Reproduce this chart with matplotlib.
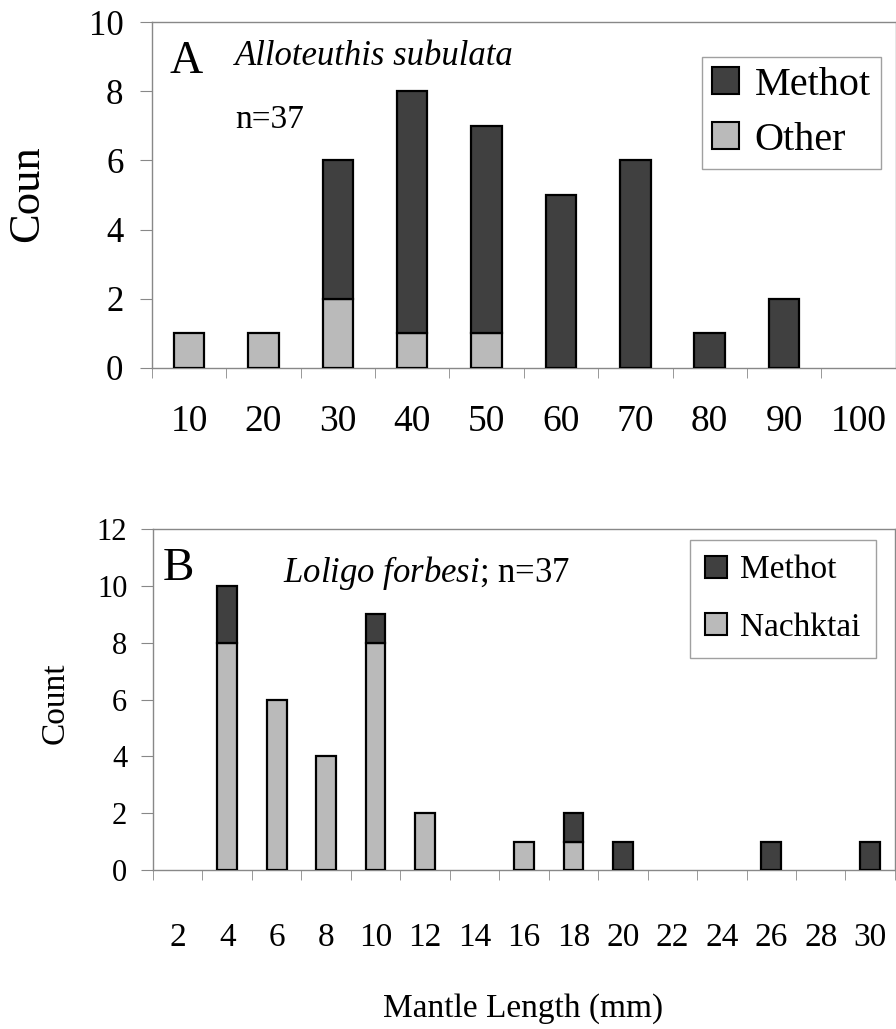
import matplotlib.pyplot as plt
import numpy as np
from matplotlib.patches import Patch

plt.rcParams['font.family'] = ['Liberation Serif', 'DejaVu Serif']
plt.rcParams['mathtext.fontset'] = 'custom'
plt.rcParams['mathtext.rm'] = 'Liberation Serif'
plt.rcParams['mathtext.it'] = 'Liberation Serif:italic'

# Panel A: Alloteuthis subulata
sizes_a = ['10', '20', '30', '40', '50', '60', '70', '80', '90', '100']
other_a = [1, 1, 2, 1, 1, 0, 0, 0, 0, 0]
methot_a = [0, 0, 4, 7, 6, 5, 6, 1, 2, 0]

# Panel B: Loligo forbesi
sizes_b = ['2', '4', '6', '8', '10', '12', '14', '16', '18', '20', '22', '24', '26', '28', '30']
nacht_b = [0, 8, 6, 4, 8, 2, 0, 1, 1, 0, 0, 0, 0, 0, 0]
methot_b = [0, 2, 0, 0, 1, 0, 0, 0, 1, 1, 0, 0, 1, 0, 1]

dark = '#404040'
light = '#bababa'
axis_col = '#888888'

fig = plt.figure(figsize=(8.96, 10.29), dpi=100)
ax1 = fig.add_axes([0.1696, 0.6424, 0.830, 0.3362])
ax2 = fig.add_axes([0.1708, 0.1545, 0.828, 0.3314])


def draw_panel(ax, cats, low, high, ymax, ystep, xfs, yfs, xpad, ypad, bw):
    x = np.arange(len(cats))
    low = np.array(low)
    high = np.array(high)
    m = low > 0
    ax.bar(x[m], low[m], width=bw, color=light, edgecolor='black', linewidth=1.6, zorder=3)
    m = high > 0
    ax.bar(x[m], high[m], bottom=low[m], width=bw, color=dark, edgecolor='black', linewidth=1.6, zorder=3)
    ax.set_xlim(-0.5, len(cats) - 0.5)
    ax.set_ylim(0, ymax)
    ax.set_xticks(x)
    ax.set_xticklabels(cats, fontsize=xfs)
    ax.set_xticks(np.arange(len(cats) + 1) - 0.5, minor=True)
    ax.tick_params(axis='x', which='major', length=0, pad=xpad)
    ax.tick_params(axis='x', which='minor', length=7, color=axis_col, direction='out')
    ax.set_yticks(np.arange(0, ymax + 1, ystep))
    ax.tick_params(axis='y', length=8.5, color=axis_col, direction='out', labelsize=yfs, pad=ypad)
    for s in ax.spines.values():
        s.set_color(axis_col)
        s.set_linewidth(1.0)


draw_panel(ax1, sizes_a, other_a, methot_a, 10, 2, 27, 25, 26, 12, 0.41)
ax1.text(-0.168, 0.503, 'Coun', transform=ax1.transAxes, fontsize=32, rotation=90,
         va='center', ha='center')
ax1.text(0.024, 0.853, 'A', transform=ax1.transAxes, fontsize=33, va='baseline', ha='left')
ax1.text(0.1116, 0.876, 'Alloteuthis subulata', transform=ax1.transAxes, fontsize=25,
         style='italic', va='baseline', ha='left')
ax1.text(0.1116, 0.694, 'n=37', transform=ax1.transAxes, fontsize=24, va='baseline', ha='left')
handles = [Patch(facecolor=dark, edgecolor='black', linewidth=1.5, label='Methot'),
           Patch(facecolor=light, edgecolor='black', linewidth=1.5, label='Other')]
leg = ax1.legend(handles=handles, loc='upper left', bbox_to_anchor=(0.74, 0.899), fontsize=29,
                 frameon=True, fancybox=False, edgecolor=axis_col, borderaxespad=0,
                 handlelength=0.65, handleheight=0.65, handletextpad=0.4, labelspacing=0.44,
                 borderpad=0.25)
leg.get_frame().set_linewidth(1.0)

draw_panel(ax2, sizes_b, nacht_b, methot_b, 12, 2, 24, 22, 38, 10, 0.4)
ax2.text(-0.131, 0.49, 'Count', transform=ax2.transAxes, fontsize=24, rotation=90,
         va='center', ha='center')
ax2.text(0.4987, -0.405, 'Mantle Length (mm)', transform=ax2.transAxes, fontsize=24,
         va='center', ha='center')
ax2.text(0.0135, 0.850, 'B', transform=ax2.transAxes, fontsize=34, va='baseline', ha='left')
ax2.text(0.175, 0.845, r'$\it{Loligo\ forbesi}$; n=37', transform=ax2.transAxes, fontsize=25,
         va='baseline', ha='left')
handles = [Patch(facecolor=dark, edgecolor='black', linewidth=1.5, label='Methot'),
           Patch(facecolor=light, edgecolor='black', linewidth=1.5, label='Nachktai')]
leg = ax2.legend(handles=handles, loc='upper left', bbox_to_anchor=(0.724, 0.968), fontsize=24,
                 frameon=True, fancybox=False, edgecolor=axis_col, borderaxespad=0,
                 handlelength=0.65, handleheight=0.65, handletextpad=0.4, labelspacing=0.8,
                 borderpad=0.45)
leg.get_frame().set_linewidth(1.0)

fig.savefig('out.png', dpi=100)
